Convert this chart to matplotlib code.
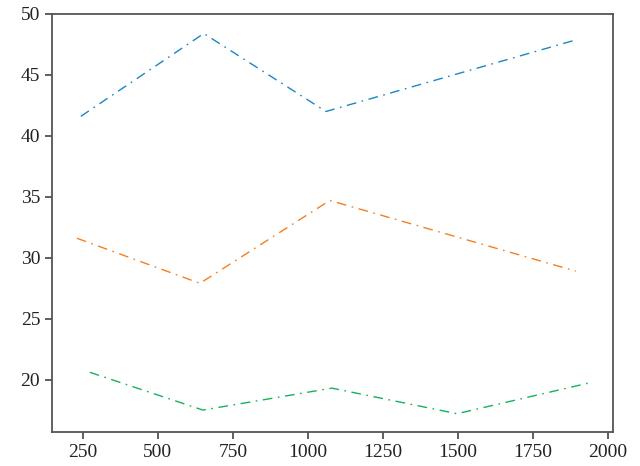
import matplotlib
matplotlib.use("Agg")
import matplotlib.pyplot as plt

plt.rcParams['font.family'] = ['Liberation Serif', 'DejaVu Serif']

blue_x = [243, 653, 1060, 1897]
blue_y = [41.6, 48.4, 42.0, 47.9]

orange_x = [230, 640, 1073, 1893]
orange_y = [31.6, 27.9, 34.7, 28.9]

green_x = [273, 650, 1080, 1497, 1933]
green_y = [20.6, 17.5, 19.3, 17.2, 19.7]

x_ticks = [250, 500, 750, 1000, 1250, 1500, 1750, 2000]
y_ticks = [20, 25, 30, 35, 40, 45, 50]

fig = plt.figure(figsize=(6.4, 4.66), dpi=100)
ax = fig.add_axes([52 / 640, 1 - 432 / 466, (613 - 52) / 640, (432 - 14) / 466])

dash = (0, (7, 4, 1.2, 4))
ax.plot(blue_x, blue_y, linestyle=dash, color='#1a86c3', linewidth=1.0)
ax.plot(orange_x, orange_y, linestyle=dash, color='#f57f20', linewidth=1.0)
ax.plot(green_x, green_y, linestyle=dash, color='#14b35a', linewidth=1.0)

ax.set_xlim(147, 2017)
ax.set_ylim(15.7, 50)
ax.set_xticks(x_ticks)
ax.set_yticks(y_ticks)

for s in ax.spines.values():
    s.set_color('#555555')
    s.set_linewidth(1.3)

ax.tick_params(direction='out', length=5, width=1.1, color='#333333',
               labelsize=14, labelcolor='#222222', top=False, right=False)

fig.savefig("out.png", dpi=100)
